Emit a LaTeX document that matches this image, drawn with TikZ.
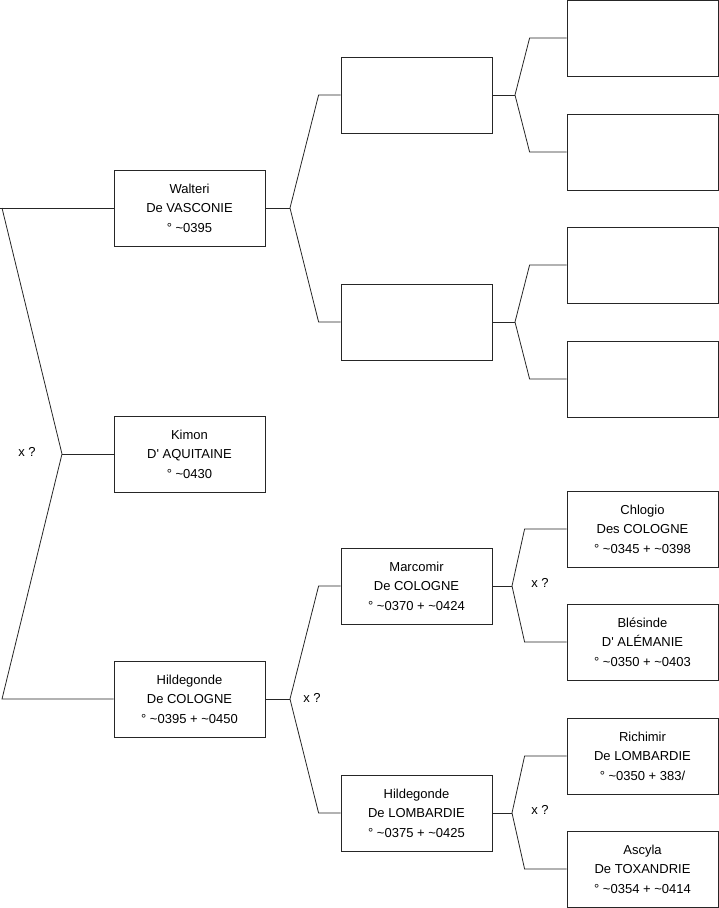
\documentclass[tikz,border=0pt]{standalone}
\usepackage{fontspec}
\setmainfont{Liberation Sans}
\begin{document}
\begin{tikzpicture}[x=1pt,y=-1pt,
  person/.style={draw=black!85, line width=0.8pt, fill=white, minimum width=151pt, minimum height=76pt, inner sep=0pt, align=center, font=\fontsize{13}{19.5}\selectfont, anchor=center},
  link/.style={draw=black!85, line width=0.8pt},
  marr/.style={font=\fontsize{13}{15}\selectfont, inner sep=0pt}]
\useasboundingbox (0,0) rectangle (719,908);
% column 1
\node[person] (w) at (189.5,208) {Walteri\\De VASCONIE\\° \textasciitilde 0395};
\node[person] (k) at (189.5,454) {Kimon\\D\textquotesingle{} AQUITAINE\\° \textasciitilde 0430};
\node[person] (h) at (189.5,699) {Hildegonde\\De COLOGNE\\° \textasciitilde 0395 + \textasciitilde 0450};
% column 2
\node[person] (a1) at (416.5,95) {};
\node[person] (a2) at (416.5,322) {};
\node[person] (m) at (416.5,586) {Marcomir\\De COLOGNE\\° \textasciitilde 0370 + \textasciitilde 0424};
\node[person] (hl) at (416.5,813) {Hildegonde\\De LOMBARDIE\\° \textasciitilde 0375 + \textasciitilde 0425};
% column 3
\node[person] (b1) at (642.5,38) {};
\node[person] (b2) at (642.5,152) {};
\node[person] (b3) at (642.5,265) {};
\node[person] (b4) at (642.5,379) {};
\node[person] (b5) at (642.5,529) {Chlogio\\Des COLOGNE\\° \textasciitilde 0345 + \textasciitilde 0398};
\node[person] (b6) at (642.5,642) {Blésinde\\D\textquotesingle{} ALÉMANIE\\° \textasciitilde 0350 + \textasciitilde 0403};
\node[person] (b7) at (642.5,756) {Richimir\\De LOMBARDIE\\° \textasciitilde 0350 + 383/};
\node[person] (b8) at (642.5,869) {Ascyla\\De TOXANDRIE\\° \textasciitilde 0354 + \textasciitilde 0414};
% fork points
\coordinate (s1) at (0,208);
\coordinate (t1) at (2,208);
\coordinate (s2) at (2,699);
\coordinate (f0) at (62,454);
\coordinate (f1) at (290,208);
\coordinate (f2) at (290,699);
\coordinate (f3) at (515,95);
\coordinate (f4) at (515,322);
\coordinate (f5) at (512,586);
\coordinate (f6) at (512,813);
% connectors
\draw[link] (w.west) -- (s1);
\draw[link] (t1) -- (f0) -- (s2) -- (h.west);
\draw[link] (f0) -- (k.west);
\draw[link] (w.east) -- (f1);
\draw[link] (h.east) -- (f2);
\draw[link] (a1.west) -- ([xshift=-22pt]a1.west) -- (f1) -- ([xshift=-22pt]a2.west) -- (a2.west);
\draw[link] (m.west) -- ([xshift=-22pt]m.west) -- (f2) -- ([xshift=-22pt]hl.west) -- (hl.west);
\draw[link] (a1.east) -- (f3);
\draw[link] (a2.east) -- (f4);
\draw[link] (m.east) -- (f5);
\draw[link] (hl.east) -- (f6);
\draw[link] (b1.west) -- ([xshift=-37pt]b1.west) -- (f3) -- ([xshift=-37pt]b2.west) -- (b2.west);
\draw[link] (b3.west) -- ([xshift=-37pt]b3.west) -- (f4) -- ([xshift=-37pt]b4.west) -- (b4.west);
\draw[link] (b5.west) -- ([xshift=-42pt]b5.west) -- (f5) -- ([xshift=-42pt]b6.west) -- (b6.west);
\draw[link] (b7.west) -- ([xshift=-42pt]b7.west) -- (f6) -- ([xshift=-42pt]b8.west) -- (b8.west);
% marriage labels
\node[marr] (x0) at (27,452) {x ?};
\node[marr] (x1) at (312,698) {x ?};
\node[marr] (x2) at (540,583) {x ?};
\node[marr] (x3) at (540,810) {x ?};
\end{tikzpicture}
\end{document}
